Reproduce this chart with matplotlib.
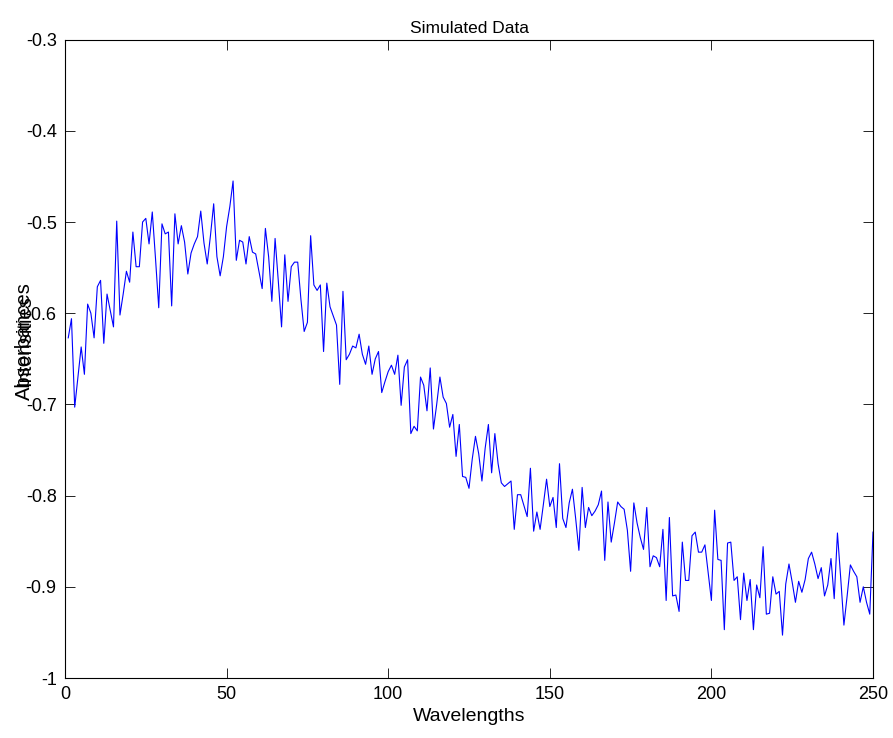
import numpy as np
import matplotlib
matplotlib.use('Agg')
import matplotlib.pyplot as plt

# ================= DATA =================
# wavelength index 1..250
wavelengths = np.arange(1, 251)

# absorbance readings, split in blocks of 50 points
absorb_001_050 = [
    -0.627, -0.606, -0.703, -0.670, -0.637, -0.667, -0.590, -0.600, -0.627, -0.571,
    -0.564, -0.633, -0.579, -0.597, -0.615, -0.499, -0.602, -0.579, -0.554, -0.566,
    -0.511, -0.549, -0.549, -0.500, -0.496, -0.524, -0.489, -0.540, -0.594, -0.502,
    -0.513, -0.511, -0.592, -0.491, -0.524, -0.504, -0.522, -0.557, -0.534, -0.524,
    -0.516, -0.488, -0.523, -0.546, -0.515, -0.480, -0.538, -0.559, -0.538, -0.505,
]
absorb_051_100 = [
    -0.483, -0.455, -0.542, -0.520, -0.522, -0.546, -0.516, -0.533, -0.535, -0.554,
    -0.573, -0.507, -0.538, -0.587, -0.518, -0.565, -0.615, -0.536, -0.587, -0.549,
    -0.544, -0.544, -0.585, -0.620, -0.610, -0.515, -0.569, -0.575, -0.569, -0.642,
    -0.567, -0.593, -0.603, -0.613, -0.678, -0.576, -0.651, -0.645, -0.636, -0.638,
    -0.623, -0.645, -0.656, -0.636, -0.667, -0.650, -0.642, -0.687, -0.675, -0.664,
]
absorb_101_150 = [
    -0.657, -0.667, -0.646, -0.701, -0.659, -0.651, -0.732, -0.724, -0.729, -0.670,
    -0.679, -0.707, -0.660, -0.727, -0.700, -0.670, -0.692, -0.699, -0.725, -0.711,
    -0.757, -0.722, -0.779, -0.780, -0.792, -0.760, -0.735, -0.754, -0.784, -0.748,
    -0.722, -0.775, -0.732, -0.765, -0.786, -0.790, -0.787, -0.784, -0.837, -0.799,
    -0.799, -0.811, -0.823, -0.770, -0.839, -0.818, -0.837, -0.810, -0.782, -0.812,
]
absorb_151_200 = [
    -0.802, -0.835, -0.765, -0.825, -0.835, -0.808, -0.793, -0.825, -0.860, -0.791,
    -0.835, -0.813, -0.822, -0.817, -0.810, -0.795, -0.871, -0.807, -0.851, -0.830,
    -0.807, -0.812, -0.815, -0.838, -0.883, -0.808, -0.830, -0.846, -0.859, -0.813,
    -0.878, -0.866, -0.868, -0.878, -0.837, -0.915, -0.824, -0.910, -0.909, -0.927,
    -0.851, -0.893, -0.893, -0.844, -0.840, -0.862, -0.862, -0.854, -0.885, -0.915,
]
absorb_201_250 = [
    -0.816, -0.870, -0.871, -0.947, -0.852, -0.851, -0.893, -0.889, -0.936, -0.885,
    -0.915, -0.892, -0.947, -0.898, -0.912, -0.856, -0.930, -0.929, -0.889, -0.908,
    -0.905, -0.953, -0.897, -0.875, -0.895, -0.917, -0.894, -0.906, -0.892, -0.869,
    -0.862, -0.875, -0.891, -0.879, -0.910, -0.898, -0.869, -0.913, -0.841, -0.890,
    -0.942, -0.910, -0.876, -0.883, -0.889, -0.917, -0.900, -0.917, -0.930, -0.840,
]
absorbances = np.array(absorb_001_050 + absorb_051_100 + absorb_101_150
                       + absorb_151_200 + absorb_201_250)

x_ticks = [0, 50, 100, 150, 200, 250]
y_ticks = [-1.0, -0.9, -0.8, -0.7, -0.6, -0.5, -0.4, -0.3]
y_tick_labels = ['-1', '-0.9', '-0.8', '-0.7', '-0.6', '-0.5', '-0.4', '-0.3']
# ========================================

plt.rcParams['font.family'] = ['Liberation Sans', 'DejaVu Sans']
plt.rcParams['font.size'] = 10

fig = plt.figure(figsize=(8.93, 7.38), dpi=100)
ax = fig.add_axes([0.0728, 0.0813, 0.9048, 0.865])

ax.plot(wavelengths, absorbances, color=(0, 0, 1), linewidth=0.8)

ax.set_xlim(0, 250)
ax.set_ylim(-1, -0.3)
ax.set_xticks(x_ticks)
ax.set_yticks(y_ticks)
ax.set_yticklabels(y_tick_labels)

ax.tick_params(direction='in', length=7, width=0.6, top=True, right=True,
               labelsize=13, pad=6)
for sp in ax.spines.values():
    sp.set_linewidth(0.8)

ax.set_title("Simulated Data", fontsize=12.5, pad=5)
ax.set_xlabel("Wavelengths", fontsize=14, labelpad=3)

# two labels drawn on top of each other, as in the original
ax.text(-0.05, 0.528, "Absorbances", transform=ax.transAxes, rotation=90,
        ha='center', va='center', fontsize=14.5)
ax.text(-0.05, 0.528, "Intensities", transform=ax.transAxes, rotation=90,
        ha='center', va='center', fontsize=14.5)

fig.savefig('out.png', dpi=100)
plt.close(fig)
